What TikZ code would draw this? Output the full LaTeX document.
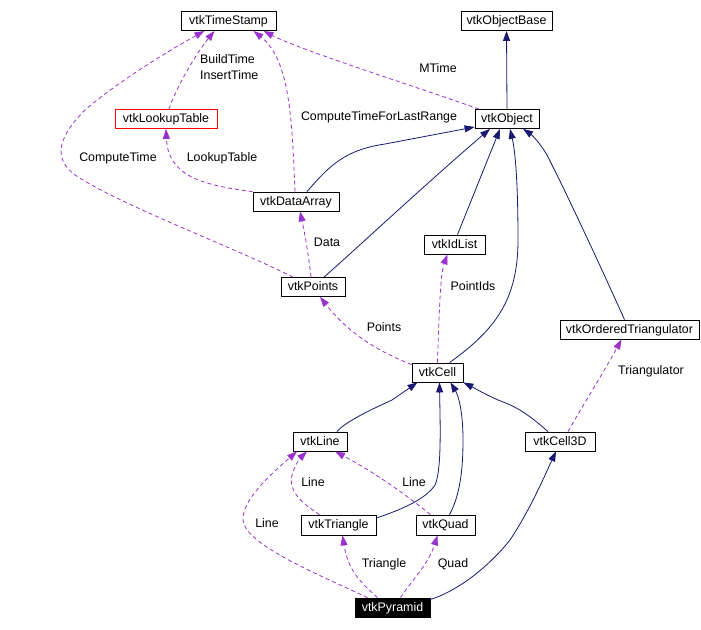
\documentclass[tikz,border=0pt]{standalone}
\usepackage{fontspec}
\setmainfont{Liberation Sans}
\usetikzlibrary{arrows.meta}
\definecolor{inh}{RGB}{25,25,112}
\definecolor{usg}{RGB}{154,50,205}
\begin{document}
\begin{tikzpicture}[x=1pt,y=-1pt,
  every node/.style={font=\fontsize{12.4}{16}\selectfont},
  box/.style={draw=black,line width=0.8pt,fill=white,minimum height=19pt,inner sep=0pt,text height=9pt,text depth=2pt},
  lbl/.style={inner sep=0pt},
  inhedge/.style={draw=inh,line width=0.8pt,-{Triangle[length=10pt,width=7pt]}},
  usgedge/.style={draw=usg,line width=0.8pt,dash pattern=on 4pt off 3pt,-{Triangle[length=10pt,width=7pt]}}]
\useasboundingbox (0,0) rectangle (701,629);
% nodes
\node[box,minimum width=95pt] (ts) at (228.5,21) {vtkTimeStamp};
\node[box,minimum width=91pt] (ob) at (506.5,21) {vtkObjectBase};
\node[box,draw=red,minimum width=102pt] (lut) at (166,119) {vtkLookupTable};
\node[box,minimum width=64pt] (obj) at (507,119) {vtkObject};
\node[box,minimum width=86pt] (da) at (296,201.5) {vtkDataArray};
\node[box,minimum width=64pt] (pts) at (313,287) {vtkPoints};
\node[box,minimum width=61pt] (idl) at (454.5,244.5) {vtkIdList};
\node[box,minimum width=139pt] (ordt) at (629.5,329.5) {vtkOrderedTriangulator};
\node[box,minimum width=51pt] (cell) at (437.5,372.5) {vtkCell};
\node[box,minimum width=54pt] (line) at (320,441.5) {vtkLine};
\node[box,minimum width=75pt,minimum height=20pt] (tri) at (338.5,525) {vtkTriangle};
\node[box,minimum width=59pt,minimum height=20pt] (quad) at (445.5,525) {vtkQuad};
\node[box,fill=black,text=white,minimum width=75pt] (pyr) at (392.5,607.5) {vtkPyramid};
\node[box,minimum width=70pt] (c3d) at (560,441.5) {vtkCell3D};
% labels
\node[lbl,anchor=west,align=left] (lbt) at (200,67.5) {BuildTime\\InsertTime};
\node[lbl] (lmt) at (438,68) {MTime};
\node[lbl] (lct) at (379,117) {ComputeTimeForLastRange};
\node[lbl] (lcpt) at (118,158) {ComputeTime};
\node[lbl] (llt) at (222,158) {LookupTable};
\node[lbl] (ldata) at (327,242) {Data};
\node[lbl] (lpid) at (473,286) {PointIds};
\node[lbl] (lpts) at (384,327) {Points};
\node[lbl] (ltrg) at (651,371) {Triangulator};
\node[lbl] (lline1) at (313,482) {Line};
\node[lbl] (lline2) at (414,482) {Line};
\node[lbl] (lline3) at (267,523) {Line};
\node[lbl] (ltri) at (384,564) {Triangle};
\node[lbl] (lquad) at (453,564) {Quad};
% inheritance edges
\draw[inhedge] (obj.north) -- (ob.south);
\draw[inhedge] ([xshift=11pt]da.north) .. controls (330,165) and (345,150) .. (385,144) -- ([yshift=-8pt]obj.west);
\draw[inhedge] ([xshift=11pt]pts.north) .. controls (355,250) and (430,180) .. ([xshift=-17pt]obj.south);
\draw[inhedge] ([xshift=3pt]idl.north) -- ([xshift=-7pt]obj.south);
\draw[inhedge] ([xshift=12pt]cell.north) .. controls (495,330) and (518,300) .. (518,240) .. controls (518,180) and (515,150) .. ([xshift=3pt]obj.south);
\draw[inhedge] ([xshift=-5pt]ordt.north) .. controls (600,265) and (565,190) .. (547,155) .. controls (540,143) and (532,135) .. ([xshift=16pt]obj.south);
\draw[inhedge] ([xshift=17pt]line.north) .. controls (345,422) and (370,410) .. (392,400) -- ([xshift=-20pt]cell.south);
\draw[inhedge] ([yshift=7pt]tri.east) .. controls (400,510) and (425,500) .. (435,485) .. controls (442,470) and (440,420) .. ([xshift=2pt]cell.south);
\draw[inhedge] ([xshift=4pt]quad.north) .. controls (460,495) and (463,470) .. (463,440) .. controls (463,410) and (458,395) .. ([xshift=13pt]cell.south);
\draw[inhedge] ([xshift=-12pt]c3d.north) .. controls (535,420) and (520,408) .. (503,402) .. controls (490,397) and (478,390) .. (cell.south east);
\draw[inhedge] ([yshift=8pt]pyr.east) .. controls (460,590) and (490,565) .. (510,540) .. controls (530,510) and (545,475) .. ([xshift=-4pt]c3d.south);
% usage edges
\draw[usgedge] ([xshift=3pt]lut.north) .. controls (175,90) and (195,55) .. ([xshift=-14pt]ts.south);
\draw[usgedge] ([xshift=-1pt]da.north) .. controls (292,120) and (290,60) .. ([xshift=25pt]ts.south);
\draw[usgedge] ([xshift=-28pt]obj.north) .. controls (420,88) and (300,50) .. ([xshift=35pt]ts.south);
\draw[usgedge] ([xshift=-20pt]pts.north) .. controls (240,250) and (120,205) .. (75,175) .. controls (55,160) and (55,140) .. (85,110) .. controls (120,80) and (170,50) .. ([xshift=-24pt]ts.south);
\draw[usgedge] (da.north west) .. controls (200,185) and (168,175) .. (lut.south);
\draw[usgedge] ([xshift=-2pt]pts.north) .. controls (308,250) and (303,225) .. ([xshift=4pt]da.south);
\draw[usgedge] ([yshift=-2pt]cell.north west) .. controls (380,352) and (350,335) .. ([xshift=7pt]pts.south);
\draw[usgedge] (cell.north) .. controls (439,320) and (440,275) .. ([xshift=-7pt]idl.south);
\draw[usgedge] ([xshift=8pt]c3d.north) .. controls (580,410) and (605,370) .. ([xshift=-8pt]ordt.south);
\draw[usgedge] ([xshift=-19pt]tri.north) .. controls (300,502) and (288,490) .. (292,475) .. controls (295,465) and (300,458) .. ([xshift=-13pt]line.south);
\draw[usgedge] ([xshift=-15pt]quad.north) .. controls (400,490) and (370,470) .. ([xshift=15pt]line.south);
\draw[usgedge] ([xshift=-25pt]pyr.north) .. controls (320,575) and (245,545) .. (243,520) .. controls (242,500) and (270,475) .. ([xshift=-23pt]line.south);
\draw[usgedge] ([xshift=-15pt]pyr.north) .. controls (360,582) and (348,570) .. ([xshift=4pt]tri.south);
\draw[usgedge] ([xshift=8pt]pyr.north) .. controls (412,580) and (428,565) .. ([xshift=-8pt]quad.south);
\end{tikzpicture}
\end{document}
